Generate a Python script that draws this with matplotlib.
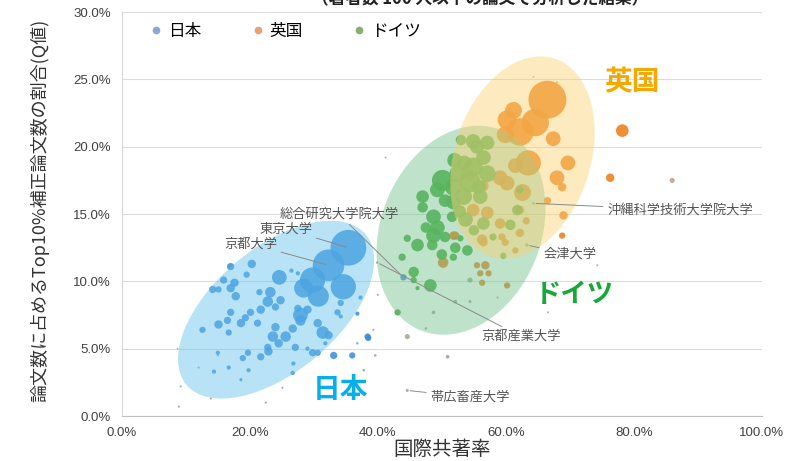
import numpy as np
import matplotlib
matplotlib.use("Agg")
import matplotlib.pyplot as plt
import matplotlib.transforms as mtransforms
from matplotlib.patches import Ellipse
from matplotlib.lines import Line2D
from matplotlib.ticker import PercentFormatter, MultipleLocator

plt.rcParams['font.family'] = ['Noto Sans CJK JP', 'DejaVu Sans']

# 国際共著率(%), Q値(%), 論文数
jp_x = [35.4, 32.3, 29.8, 34.6, 28.4, 30.7, 24.6, 27.9, 31.4, 23.2, 20.3, 17.0, 17.6, 15.9, 14.2, 17.0, 17.8, 19.5,
        21.5, 22.8, 24.8, 21.7, 24.0, 20.1, 17.0, 16.5, 19.3, 15.1, 18.6, 21.2, 24.0, 26.7, 27.5, 29.0, 27.9, 30.6,
        32.3, 23.6, 25.6, 24.5, 22.8, 22.9, 21.7, 27.1, 29.8, 33.1, 36.0, 38.5, 34.2, 34.2, 36.8, 37.3, 19.7, 16.7,
        12.6, 15.0, 18.9, 26.8, 19.8, 16.7, 14.4, 26.7, 18.6, 15.1, 26.5, 27.5, 33.7, 31.8, 29.0, 30.6, 44.0, 38.4]
jp_y = [12.5, 11.2, 10.1, 9.6, 9.5, 8.9, 10.3, 7.5, 6.2, 9.2, 11.3, 11.1, 9.9, 10.1, 9.4, 9.5, 8.9, 10.5,
        9.2, 8.5, 8.6, 7.9, 8.1, 7.7, 7.7, 7.1, 7.3, 6.8, 6.9, 6.9, 6.6, 6.5, 8.0, 7.9, 7.1, 6.9,
        6.0, 5.9, 5.9, 5.4, 5.1, 4.8, 4.4, 5.1, 4.7, 4.5, 4.5, 5.8, 8.4, 7.4, 7.6, 8.8, 4.7, 6.2,
        6.4, 4.7, 4.3, 3.9, 3.4, 3.6, 3.3, 3.2, 2.7, 9.4, 10.8, 10.6, 7.7, 5.4, 5.0, 4.7, 10.3, 5.9]
jp_n = [28900, 22500, 14400, 14400, 8100, 10000, 4900, 4900, 3600, 2500, 1600, 1200, 1600, 1200, 1200, 1600, 1600, 900,
        900, 2500, 1600, 1600, 1200, 1200, 1200, 1200, 1200, 1600, 1600, 1200, 1600, 1600, 1200, 1600, 2500, 1600,
        1600, 2500, 2500, 1600, 1200, 1600, 1200, 1200, 1200, 1200, 900, 900, 900, 400, 400, 400, 900, 900,
        900, 400, 900, 400, 400, 400, 400, 400, 225, 900, 400, 400, 900, 400, 400, 900, 900, 900]

jp_faint_x = [9.2, 8.9, 12.0, 13.9, 15.0, 22.5, 25.1, 37.8, 36.8, 39.6, 39.3, 44.6, 50.9, 8.7, 39.9, 64.3, 63.3, 41.2]
jp_faint_y = [2.2, 0.7, 3.6, 1.3, 4.5, 1.0, 2.1, 3.4, 5.4, 4.5, 6.4, 1.9, 4.4, 5.0, 11.4, 15.8, 12.7, 19.2]
jp_faint_n = [100, 100, 100, 100, 100, 100, 100, 150, 150, 150, 100, 200, 300, 60, 150, 200, 300, 80]

de_x = [53.0, 54.9, 57.1, 55.5, 56.5, 54.9, 57.1, 54.4, 50.1, 51.8, 49.3, 53.4, 56.0, 51.8, 47.0, 47.0, 48.7, 49.3,
        51.6, 53.7, 56.5, 48.7, 50.5, 46.2, 48.5, 44.6, 52.1, 54.0, 43.8, 51.8, 45.6, 48.2, 61.8, 60.7, 62.2, 45.6,
        43.1, 46.2, 59.6, 52.9, 58.0, 52.0, 53.5, 52.5, 55.8, 50.5, 52.8, 55.0, 47.5, 50.0]
de_y = [20.5, 20.4, 20.3, 20.0, 19.2, 18.5, 18.0, 17.4, 17.5, 17.0, 16.8, 16.3, 16.3, 15.9, 16.3, 15.5, 14.8, 14.0,
        14.8, 14.6, 14.3, 13.4, 13.3, 12.7, 12.7, 13.2, 12.5, 12.3, 11.8, 11.8, 10.7, 9.7, 15.3, 14.2, 16.8, 10.1,
        7.7, 9.5, 11.9, 13.2, 13.3, 19.0, 18.8, 18.0, 17.0, 16.0, 15.2, 13.8, 14.0, 12.0]
de_n = [2500, 4900, 4500, 4500, 4900, 8100, 6400, 10000, 10000, 6400, 4900, 6400, 4900, 4900, 3600, 2500, 4900, 4900,
        2500, 4900, 3600, 4900, 2500, 3600, 2500, 1200, 2500, 2500, 1200, 1200, 2500, 3600, 2500, 2500, 1200, 900,
        900, 400, 900, 900, 1200, 4900, 4900, 6400, 4900, 3600, 3600, 2500, 2500, 2500]

de_faint_x = [44.6, 54.4, 48.7, 52.1, 54.4, 47.5, 40.0]
de_faint_y = [5.9, 10.1, 7.7, 8.5, 8.5, 6.5, 9.0]
de_faint_n = [600, 600, 300, 300, 200, 150, 100]

uk_x = [66.5, 61.2, 60.2, 64.6, 62.2, 59.9, 67.4, 63.5, 61.5, 69.7, 68.0, 59.1, 60.2, 62.6, 68.8, 66.5, 69.0, 56.5,
        54.4, 54.9, 57.1, 59.1, 62.2, 63.2, 62.2, 59.9, 56.5, 51.8, 61.5, 50.2, 52.1, 56.3, 59.4, 56.8, 55.5, 56.0,
        57.3, 56.3, 78.2, 76.3, 60.2, 68.8]
uk_y = [23.5, 22.7, 22.0, 21.8, 21.1, 20.9, 20.6, 18.8, 18.6, 18.8, 17.7, 17.7, 17.3, 16.6, 17.0, 16.0, 14.9, 17.1,
        17.9, 15.3, 15.1, 14.3, 15.3, 14.5, 13.6, 12.9, 12.9, 13.4, 12.3, 11.4, 13.4, 13.1, 13.3, 11.2, 11.2, 10.6,
        10.6, 9.9, 21.2, 17.7, 9.7, 13.4]
uk_n = [32400, 6400, 8100, 16900, 16900, 6400, 4900, 14400, 4900, 4900, 4900, 4900, 4900, 6400, 1600, 1200, 1600, 2500,
        2500, 3600, 3600, 2500, 1600, 1200, 1600, 1200, 1600, 1600, 900, 2500, 1600, 2500, 1200, 1600, 900, 900,
        900, 900, 3600, 1600, 900, 900]

uk_faint_x = [64.3, 68.0, 86.0, 74.3, 58.7, 66.6]
uk_faint_y = [25.2, 24.8, 17.5, 11.2, 8.8, 7.7]
uk_faint_n = [80, 80, 600, 100, 100, 100]

# 大学名ラベル: (名前, 点のx, 点のy, ラベルx, ラベルy)
univ_labels = [
    ("総合研究大学院大学", 44.0, 10.3, 33.9, 15.0),
    ("東京大学", 35.4, 12.5, 25.6, 13.9),
    ("京都大学", 32.3, 11.2, 20.1, 12.8),
    ("沖縄科学技術大学院大学", 64.3, 15.8, 87.2, 15.3),
    ("会津大学", 63.3, 12.7, 70.0, 12.0),
    ("京都産業大学", 39.9, 11.4, 62.4, 5.9),
    ("帯広畜産大学", 44.6, 1.9, 54.4, 1.4),
]

fig = plt.figure(figsize=(8.07, 4.61), dpi=100)
ax = fig.add_axes([0.151, 0.0976, 0.793, 0.876])
ax.set_xlim(0, 100)
ax.set_ylim(0, 30)

k = 0.023  # 論文数 -> marker area
ax.scatter(jp_faint_x, jp_faint_y, s=np.array(jp_faint_n) * k, color="#8e96a3", alpha=0.8, lw=0, zorder=2)
ax.scatter(de_faint_x, de_faint_y, s=np.array(de_faint_n) * k, color="#98a088", alpha=0.8, lw=0, zorder=2)
ax.scatter(uk_faint_x, uk_faint_y, s=np.array(uk_faint_n) * k, color="#c0977e", alpha=0.8, lw=0, zorder=2)
ax.scatter(jp_x, jp_y, s=np.array(jp_n) * k, color="#3a8bd6", alpha=0.85, lw=0, zorder=3)
ax.scatter(uk_x, uk_y, s=np.array(uk_n) * k, color="#ee8222", alpha=0.9, lw=0, zorder=3)
ax.scatter(de_x, de_y, s=np.array(de_n) * k, color="#46a83c", alpha=0.9, lw=0, zorder=3)


def blob(cx, cy, a, b, ang, color):
    # ellipse sized in pixels, centred on a data point
    tr = mtransforms.Affine2D() + mtransforms.ScaledTranslation(cx, cy, ax.transData)
    e = Ellipse((0, 0), 2 * a, 2 * b, angle=ang, transform=tr, facecolor=color,
                edgecolor='none', alpha=0.45, zorder=4)
    ax.add_patch(e)


blob(24.1, 7.9, 117, 62, 40, "#62c3ee")
blob(53.0, 13.8, 108, 80, 68, "#6fc28a")
blob(62.6, 19.2, 104, 68, 72, "#fbd16f")

for name, px, py, lx, ly in univ_labels:
    ax.annotate(name, xy=(px, py), xytext=(lx, ly), ha='center', va='center', fontsize=9.5,
                color="#555555", zorder=6,
                arrowprops=dict(arrowstyle='-', color="#8a8a8a", lw=0.7, shrinkA=1, shrinkB=2))

ax.text(79.7, 24.8, "英国", color="#f7a800", fontsize=20, fontweight='bold', ha='center', va='center', zorder=7)
ax.text(70.7, 9.0, "ドイツ", color="#18a83a", fontsize=19, fontweight='bold', ha='center', va='center', zorder=7)
ax.text(34.2, 1.9, "日本", color="#06aeea", fontsize=20, fontweight='bold', ha='center', va='center', zorder=7)

ax.xaxis.set_major_locator(MultipleLocator(20))
ax.yaxis.set_major_locator(MultipleLocator(5))
ax.xaxis.set_major_formatter(PercentFormatter(decimals=1))
ax.yaxis.set_major_formatter(PercentFormatter(decimals=1))
ax.tick_params(length=0, labelsize=9.5, labelcolor="#404040", pad=8)
for lab in ax.get_xticklabels() + ax.get_yticklabels():
    lab.set_family(['Liberation Sans', 'DejaVu Sans'])
ax.grid(axis='y', color="#dcdcdc", lw=0.8)
ax.set_axisbelow(True)
for side in ['top', 'right']:
    ax.spines[side].set_visible(False)
ax.spines['left'].set_color("#d8d8d8")
ax.spines['bottom'].set_color("#bfbfbf")

ax.set_xlabel("国際共著率", fontsize=14, color="#333333", va='center')
ax.xaxis.set_label_coords(0.5, -0.082)
ax.set_ylabel("論文数に占めるTop10%補正論文数の割合(Q値)", fontsize=13, color="#333333", va='center')
ax.yaxis.set_label_coords(-0.128, 0.51)

handles = [Line2D([], [], ls='', marker='o', ms=4.5, color=c) for c in ["#8aa6d8", "#e8a070", "#86b070"]]
ax.legend(handles, ["日本", "英国", "ドイツ"], loc='upper left', bbox_to_anchor=(0.02, 1.01), ncol=3,
          frameon=False, fontsize=12, handletextpad=0.3, columnspacing=3.0, handlelength=0.8)

fig.text(0.595, 1 - 4 / 461, "（著者数 100 人以下の論文で分析した結果）", ha='center', va='baseline',
         fontsize=12, fontweight='bold', color="#222222")

fig.savefig("out.png", dpi=100)
